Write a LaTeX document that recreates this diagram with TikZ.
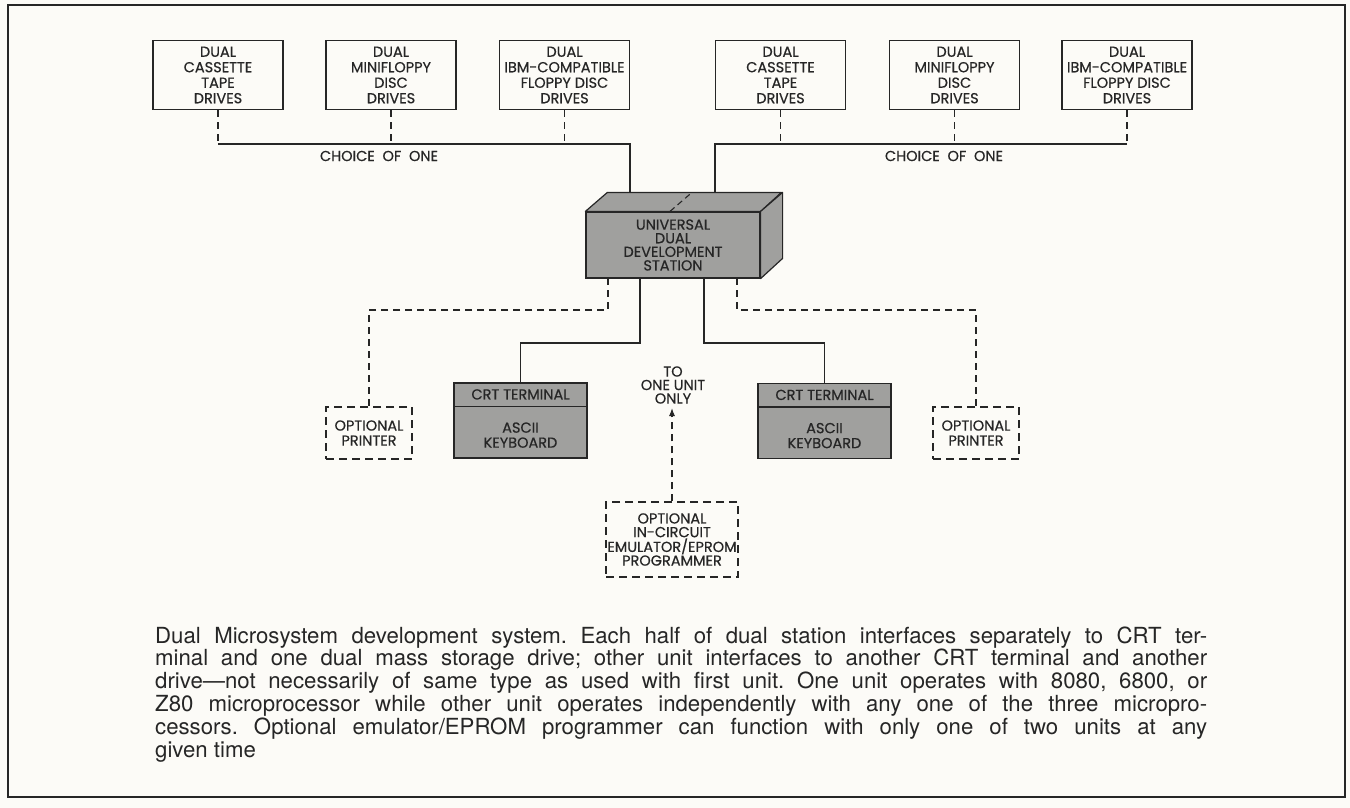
\documentclass[tikz,border=0pt]{standalone}
\usepackage{fontspec}
\newfontfamily\dfont{Poppins}[FakeBold=0.5]
\newfontfamily\cfont{TeX Gyre Heros}
\usetikzlibrary{arrows.meta,calc}
\definecolor{paper}{RGB}{252,251,247}
\definecolor{ink}{RGB}{38,38,38}
\definecolor{shade}{RGB}{160,160,158}
\frenchspacing
\begin{document}
\begin{tikzpicture}[x=1pt,y=-1pt,
  lbl/.style={font=\dfont\fontsize{14.5}{15.5}\selectfont,text=ink,align=center,inner sep=0pt},
  box/.style={lbl,draw=ink,line width=1.2pt,fill=paper},
  topbox/.style={box,minimum width=130pt,minimum height=69pt},
  optbox/.style={lbl,draw=ink,line width=1.2pt,fill=paper,dash pattern=on 8pt off 5pt},
  grey/.style={draw=ink,line width=1.2pt,fill=shade},
  wire/.style={draw=ink,line width=1.1pt},
  dline/.style={draw=ink,line width=1.1pt,dash pattern=on 7pt off 5pt},
  capline/.style={anchor=base west,inner sep=0pt,font=\cfont\fontsize{22.2}{23}\selectfont,text=ink}]
\useasboundingbox (0,0) rectangle (1350,808);
\fill[paper] (0,0) rectangle (1350,808);
\draw[ink,line width=2.4pt] (8,5) rectangle (1345,797);

% top drive boxes
\node[topbox] (b1) at (218,75) {DUAL\\CASSETTE\\TAPE\\DRIVES};
\node[topbox] (b2) at (391,75) {DUAL\\MINIFLOPPY\\DISC\\DRIVES};
\node[topbox] (b3) at (564.5,75) {DUAL\\IBM-COMPATIBLE\\FLOPPY DISC\\DRIVES};
\node[topbox] (b4) at (780.5,75) {DUAL\\CASSETTE\\TAPE\\DRIVES};
\node[topbox] (b5) at (954.5,75) {DUAL\\MINIFLOPPY\\DISC\\DRIVES};
\node[topbox] (b6) at (1127,75) {DUAL\\IBM-COMPATIBLE\\FLOPPY DISC\\DRIVES};

\coordinate (busL) at (218,144);
\coordinate (busR) at (1127,144);
\coordinate (inL) at (630,193);
\coordinate (inR) at (715,193);

\draw[dline] (b1.south) -- (b1.south |- busL);
\draw[dline] (b2.south) -- (b2.south |- busL);
\draw[dline] (b3.south) -- (b3.south |- busL);
\draw[wire] (b1.south |- busL) -| (inL);
\draw[dline] (b4.south) -- (b4.south |- busR);
\draw[dline] (b5.south) -- (b5.south |- busR);
\draw[dline] (b6.south) -- (b6.south |- busR);
\draw[wire] (b6.south |- busR) -| (inR);

\node[lbl] (ch1) at (379,156) {CHOICE\ \ OF\ \ ONE};
\node[lbl] (ch2) at (944,156) {CHOICE\ \ OF\ \ ONE};

% station
\node[lbl,draw=ink,line width=1.2pt,fill=shade,minimum width=174pt,minimum height=66pt,
  font=\dfont\fontsize{14.5}{13.6}\selectfont] (station) at (673,245)
  {UNIVERSAL\\DUAL\\DEVELOPMENT\\STATION};
\draw[grey,line join=round] (station.north west) -- ++(22,-19) -- ++(174,0) -- (station.north east) -- cycle;
\draw[grey,line join=round] (station.north east) -- ++(22,-19) -- ++(0,66) -- (station.south east) -- cycle;
\draw[dline,dash pattern=on 6pt off 4pt] ($(station.north)+(-3,0)$) -- ++(22,-19);

% lower units
\node[optbox,minimum width=86pt,minimum height=52pt,font=\dfont\fontsize{14.5}{15}\selectfont] (p1) at (369,433) {OPTIONAL\\PRINTER};
\node[optbox,minimum width=86pt,minimum height=52pt,font=\dfont\fontsize{14.5}{15}\selectfont] (p2) at (976,433) {OPTIONAL\\PRINTER};

\node[grey,minimum width=133pt,minimum height=75pt,inner sep=0pt] (c1) at (520.5,420.5) {};
\node[grey,minimum width=133pt,minimum height=75pt,inner sep=0pt] (c2) at (824.5,421) {};
\draw[wire,line width=1.2pt] ($(c1.north west)+(0,24)$) -- ($(c1.north east)+(0,24)$);
\draw[wire,line width=1.2pt] ($(c2.north west)+(0,24)$) -- ($(c2.north east)+(0,24)$);
\node[lbl] (c1t) at ($(c1.north)+(0,12)$) {CRT\ TERMINAL};
\node[lbl] (c2t) at ($(c2.north)+(0,12)$) {CRT\ TERMINAL};
\node[lbl,font=\dfont\fontsize{14.5}{15}\selectfont] (c1k) at ($(c1.south)+(0,-23.5)$) {ASCII\\KEYBOARD};
\node[lbl,font=\dfont\fontsize{14.5}{15}\selectfont] (c2k) at ($(c2.south)+(0,-23.5)$) {ASCII\\KEYBOARD};

\node[optbox,minimum width=132pt,minimum height=75pt,font=\dfont\fontsize{14.5}{13.7}\selectfont] (e1) at (672,539.5)
  {OPTIONAL\\IN-CIRCUIT\\EMULATOR/EPROM\\PROGRAMMER};
\node[lbl,font=\dfont\fontsize{14.5}{13.5}\selectfont] (to) at (673,385) {TO\\ONE UNIT\\ONLY};
\coordinate (tip) at (672,408);
\draw[dline,-{Latex[length=8pt,width=6pt]}] (e1.north) -- (tip);

% station outputs
\coordinate (o1) at (608,278);
\coordinate (o2) at (640,278);
\coordinate (o3) at (704,278);
\coordinate (o4) at (737,278);
\coordinate (h1) at (369,310);
\coordinate (h2) at (520.5,343);
\coordinate (h3) at (824.5,343);
\coordinate (h4) at (976,310);
\draw[dline] (o1) |- (h1) -- (p1.north);
\draw[wire] (o2) |- (h2) -- (c1.north);
\draw[wire] (o3) |- (h3) -- (c2.north);
\draw[dline] (o4) |- (h4) -- (p2.north);

% caption
\node[capline] (l1) at (155,643) {\makebox[1052pt][s]{Dual Microsystem development system. Each half of dual station interfaces separately to CRT ter-}};
\node[capline] (l2) at (155,665.8) {\makebox[1052pt][s]{minal and one dual mass storage drive; other unit interfaces to another CRT terminal and another}};
\node[capline] (l3) at (155,688.6) {\makebox[1052pt][s]{drive—not necessarily of same type as used with first unit. One unit operates with 8080, 6800, or}};
\node[capline] (l4) at (155,711.4) {\makebox[1052pt][s]{Z80 microprocessor while other unit operates independently with any one of the three micropro-}};
\node[capline] (l5) at (155,734.2) {\makebox[1052pt][s]{cessors. Optional emulator/EPROM programmer can function with only one of two units at any}};
\node[capline] (l6) at (155,757) {given time};
\end{tikzpicture}
\end{document}
